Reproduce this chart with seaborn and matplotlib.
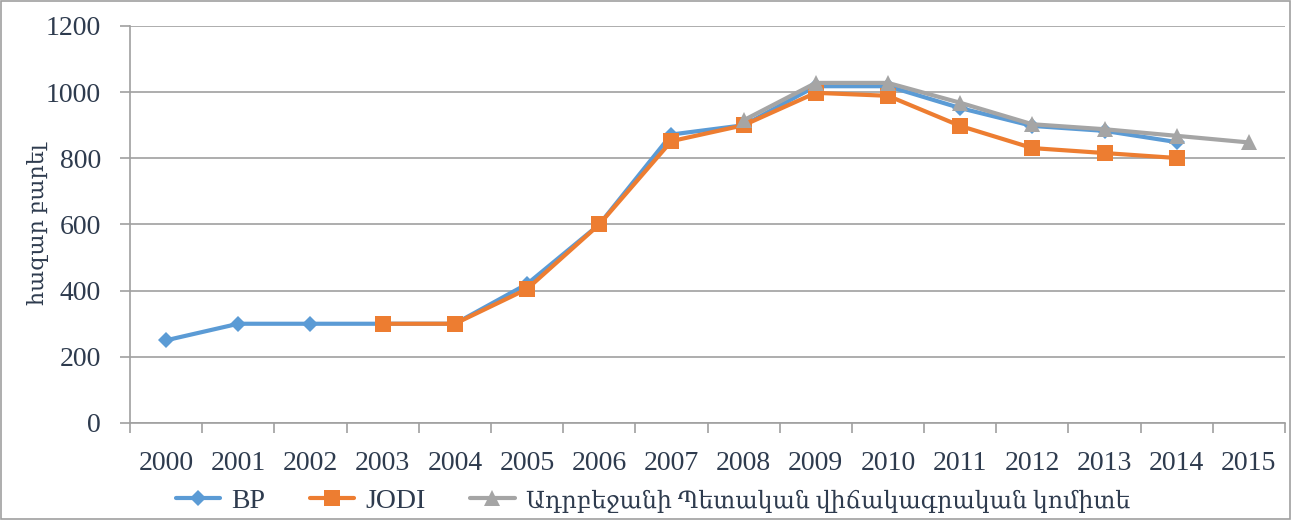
import numpy as np
import pandas as pd
import matplotlib.pyplot as plt
import matplotlib.patches as mpatches
import seaborn as sns

years = list(range(2000, 2016))
bp = [250, 300, 300, 300, 300, 420, 600, 872, 900, 1018, 1018, 952, 898, 883, 849, np.nan]
jodi = [np.nan, np.nan, np.nan, 300, 300, 405, 600, 852, 900, 998, 989, 898, 831, 816, 801, np.nan]
azstat = [np.nan] * 8 + [915, 1028, 1028, 968, 903, 888, 868, 848]
series_names = ["BP", "JODI", "Ադրբեջանի Պետական վիճակագրական կոմիտե"]

sns.set_theme(style="white")
plt.rcParams['font.family'] = ['Liberation Serif', 'DejaVu Serif']

rows = []
for name, vals in zip(series_names, [bp, jodi, azstat]):
    for y, v in zip(years, vals):
        if not np.isnan(v):
            rows.append({"year": y, "value": v, "source": name})
df = pd.DataFrame(rows)

colors = {"BP": "#5B9BD5", "JODI": "#ED7D31", series_names[2]: "#A5A5A5"}
markers = {"BP": "D", "JODI": "s", series_names[2]: "^"}
msize = {"BP": 8, "JODI": 11, series_names[2]: 11}
txt = '#2E3B4E'
grid = '#A0A0A0'

fig = plt.figure(figsize=(12.93, 5.2), dpi=100)
ax = fig.add_axes([130 / 1293, 1 - 423 / 520, 1155 / 1293, 397 / 520])

for name in series_names:
    sub = df[df["source"] == name]
    sns.lineplot(data=sub, x="year", y="value", ax=ax, color=colors[name],
                 marker=markers[name], markersize=msize[name], markeredgewidth=0,
                 linewidth=3, label=name)

ax.set_xlim(1999.5, 2015.5)
ax.set_ylim(0, 1200)
ax.set_yticks(range(0, 1201, 200))
ax.set_xticks(years)
ax.set_xticks(np.arange(1999.5, 2016, 1), minor=True)
ax.tick_params(axis='x', which='major', length=0, pad=20, labelsize=20, labelcolor=txt)
ax.tick_params(axis='x', which='minor', length=7, color=grid, width=1.2, bottom=True)
ax.tick_params(axis='y', length=7, color=grid, width=1.2, left=True, pad=14,
               labelsize=20, labelcolor=txt)
ax.yaxis.grid(True, color=grid, linewidth=1.2)
ax.xaxis.grid(False)
for s in ['top', 'right']:
    ax.spines[s].set_visible(False)
for s in ['left', 'bottom']:
    ax.spines[s].set_color(grid)
    ax.spines[s].set_linewidth(1.2)
ax.set_xlabel("")
ax.set_ylabel("հազար բարել", fontsize=16, color=txt)
ax.yaxis.set_label_coords(-(130 - 49) / 1155, 0.5)

ax.get_legend().remove()
handles, labels = ax.get_legend_handles_labels()
leg = fig.legend(handles, labels, loc='center', bbox_to_anchor=(0.505, 19 / 520),
                 ncol=3, frameon=False, fontsize=20, labelcolor=txt,
                 handlelength=1.6, columnspacing=1.6, handletextpad=0.4)
leg.get_texts()[2].set_fontsize(17)

fig.patches.append(mpatches.Rectangle((0.001, 0.002), 0.997, 0.996, transform=fig.transFigure,
                                      fill=False, edgecolor=grid, linewidth=1.2))

fig.savefig("out.png", dpi=100)
